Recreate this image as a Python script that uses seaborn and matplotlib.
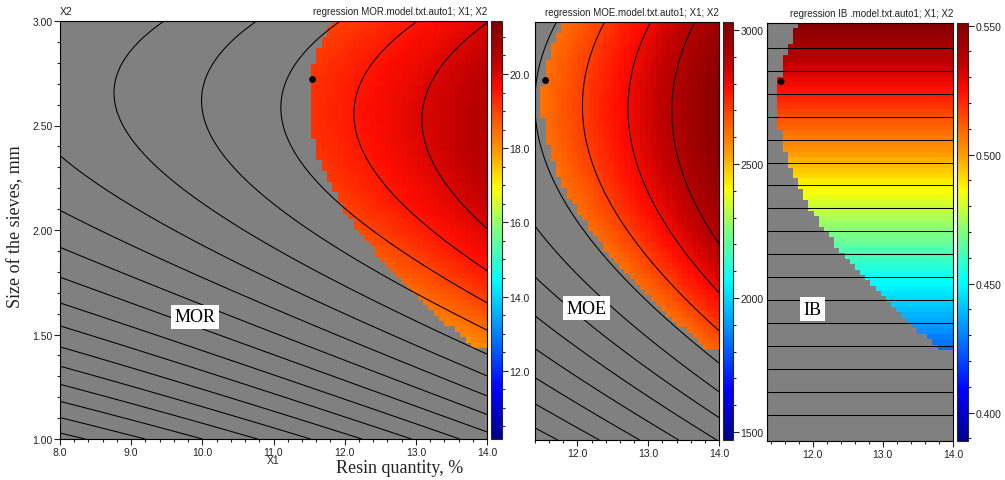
import numpy as np
import matplotlib
matplotlib.use("Agg")
import matplotlib.pyplot as plt
from matplotlib.colors import LinearSegmentedColormap, Normalize
from matplotlib.cm import ScalarMappable
from matplotlib.ticker import MultipleLocator, FormatStrFormatter
import seaborn as sns

# --- regression models (natural units) ---
# coefficients: b0, b1 (X1), b2 (X2), b11 (X1^2), b22 (X2^2), b12 (X1*X2)
mor_coef = [-1.88, 0.437, 12.26, 0.0161, -2.10, -0.126]
moe_coef = [-745.2, 64.24, 1647.2, 4.884, -290.0, -11.6]
ib_coef = [0.310, 0.0, 0.080, 0.0, 0.0, 0.0]

# feasible region limits (outside -> grey)
moe_min = 2615.0
ib_min = 0.425

# contour levels
mor_levels = np.arange(10.0, 20.01, 0.5)
moe_levels = np.arange(1800, 2901, 100)
ib_levels = np.arange(0.3998, 0.5411, 0.0088)

# colour bar ranges
mor_range = [10.16, 21.43]
moe_range = [1470, 3030]
ib_range = [0.389, 0.551]

# axis ranges
x1_range_mor = [8.0, 14.0]
x1_range_moe = [11.4, 14.0]
x1_range_ib = [11.35, 14.0]
x2_range = [1.0, 3.0]

# optimum point
opt_x1 = [11.55]
opt_x2 = [2.72]

names = ["MOR", "MOE", "IB"]
titles = ["regression MOR.model.txt.auto1; X1; X2",
          "regression MOE.model.txt.auto1; X1; X2",
          "regression IB .model.txt.auto1; X1; X2"]


def model(coef, x1, x2):
    b0, b1, b2, b11, b22, b12 = coef
    return b0 + b1 * x1 + b2 * x2 + b11 * x1 ** 2 + b22 * x2 ** 2 + b12 * x1 * x2


sns.set_style("ticks")
plt.rcParams['font.family'] = ['Liberation Sans', 'DejaVu Sans']

cmap = LinearSegmentedColormap.from_list("surf", [
    (0.00, (0.0, 0.0, 0.55)),
    (0.12, (0.0, 0.0, 1.0)),
    (0.38, (0.0, 1.0, 1.0)),
    (0.50, (0.5, 1.0, 0.5)),
    (0.60, (1.0, 1.0, 0.0)),
    (0.69, (1.0, 0.6, 0.0)),
    (0.76, (1.0, 0.35, 0.0)),
    (0.84, (1.0, 0.05, 0.0)),
    (0.90, (0.75, 0.0, 0.0)),
    (1.00, (0.5, 0.0, 0.0)),
])
cmap.set_bad((0, 0, 0, 0))

W, H = 1005, 481
fig = plt.figure(figsize=(W / 100, H / 100), dpi=100)


def box(x0, x1, y0, y1):
    return [x0 / W, 1 - y1 / H, (x1 - x0) / W, (y1 - y0) / H]


panels = [
    dict(coef=mor_coef, levels=mor_levels, vr=mor_range, xr=x1_range_mor, nx=80,
         ax=(60, 487, 22, 440), cb=(491, 502), major=2.0, minor=0.5, fmt='%.1f',
         label=(9.9, 1.585)),
    dict(coef=moe_coef, levels=moe_levels, vr=moe_range, xr=x1_range_moe, nx=35,
         ax=(535, 719, 23, 441), cb=(723, 733), major=500, minor=100, fmt='%d',
         label=(12.13, 1.63)),
    dict(coef=ib_coef, levels=ib_levels, vr=ib_range, xr=x1_range_ib, nx=36,
         ax=(767, 953, 24, 442), cb=(957, 968), major=0.05, minor=0.01, fmt='%.3f',
         label=(12.0, 1.63)),
]

for i, p in enumerate(panels):
    x0, x1, y0, y1 = p["ax"]
    ax = fig.add_axes(box(x0, x1, y0, y1))
    ax.set_facecolor('#808080')
    xlo, xhi = p["xr"]
    ylo, yhi = x2_range
    ny = 78

    # coarse cells for the coloured surface
    xe = np.linspace(xlo, xhi, p["nx"] + 1)
    ye = np.linspace(ylo, yhi, ny + 1)
    xc, yc = np.meshgrid((xe[:-1] + xe[1:]) / 2, (ye[:-1] + ye[1:]) / 2)
    z = model(p["coef"], xc, yc)
    ok = (model(moe_coef, xc, yc) >= moe_min) & (model(ib_coef, xc, yc) >= ib_min)
    zm = np.ma.masked_where(~ok, z)
    norm = Normalize(vmin=p["vr"][0], vmax=p["vr"][1])
    ax.pcolormesh(xe, ye, zm, cmap=cmap, norm=norm, shading='flat')

    # smooth contour lines
    xf, yf = np.meshgrid(np.linspace(xlo, xhi, 300), np.linspace(ylo, yhi, 300))
    ax.contour(xf, yf, model(p["coef"], xf, yf), levels=p["levels"],
               colors='black', linewidths=0.75)

    sns.scatterplot(x=opt_x1, y=opt_x2, ax=ax, color='black', s=24,
                    edgecolor='none', zorder=5, legend=False)

    ax.text(p["label"][0], p["label"][1], names[i], ha='center', va='center',
            fontsize=13, family='Liberation Serif', color='black',
            bbox=dict(facecolor='white', edgecolor='none', pad=2.5), zorder=6)

    ax.set_xlim(xlo, xhi)
    ax.set_ylim(ylo, yhi)
    ax.xaxis.set_major_locator(MultipleLocator(1.0))
    ax.xaxis.set_minor_locator(MultipleLocator(0.2))
    ax.xaxis.set_major_formatter(FormatStrFormatter('%.1f'))
    ax.tick_params(axis='both', which='major', direction='out', length=4,
                   width=0.8, labelsize=7.5, pad=1.5, colors='#222222')
    ax.tick_params(axis='both', which='minor', direction='out', length=2.5,
                   width=0.8, colors='#222222')
    if i == 0:
        ax.yaxis.set_major_locator(MultipleLocator(0.5))
        ax.yaxis.set_minor_locator(MultipleLocator(0.1))
        ax.yaxis.set_major_formatter(FormatStrFormatter('%.2f'))
        ax.text(0.0, 1.012, "X2", transform=ax.transAxes, ha='left', va='bottom',
                fontsize=7.5, color='#222222')
    else:
        ax.set_yticks([])
    for s in ax.spines.values():
        s.set_linewidth(0.8)
        s.set_color('black')
    ax.text(1.0, 1.012, titles[i], transform=ax.transAxes, ha='right',
            va='bottom', fontsize=7, color='#222222')

    # colour bar
    cax = fig.add_axes(box(p["cb"][0], p["cb"][1], y0, y1))
    cb = fig.colorbar(ScalarMappable(norm=norm, cmap=cmap), cax=cax)
    cb.outline.set_linewidth(0.8)
    cb.ax.yaxis.set_major_locator(MultipleLocator(p["major"]))
    cb.ax.yaxis.set_minor_locator(MultipleLocator(p["minor"]))
    cb.ax.yaxis.set_major_formatter(FormatStrFormatter(p["fmt"]))
    cb.ax.tick_params(which='major', direction='out', length=4, width=0.8,
                      labelsize=7.5, pad=1.5, colors='#222222')
    cb.ax.tick_params(which='minor', direction='out', length=2.5, width=0.8,
                      colors='#222222')

fig.text(273 / W, 1 - 461 / H, "X1", ha='center', va='center', fontsize=7.5,
         color='#222222')
fig.text(400 / W, 1 - 469 / H, "Resin quantity, %", ha='center', va='center',
         fontsize=13, family='Liberation Serif', color='#222222')
fig.text(16 / W, 1 - 227 / H, "Size of the sieves, mm", ha='center',
         va='center', rotation=90, fontsize=13, family='Liberation Serif',
         color='#222222')

fig.savefig("out.png", dpi=100, facecolor='white')
